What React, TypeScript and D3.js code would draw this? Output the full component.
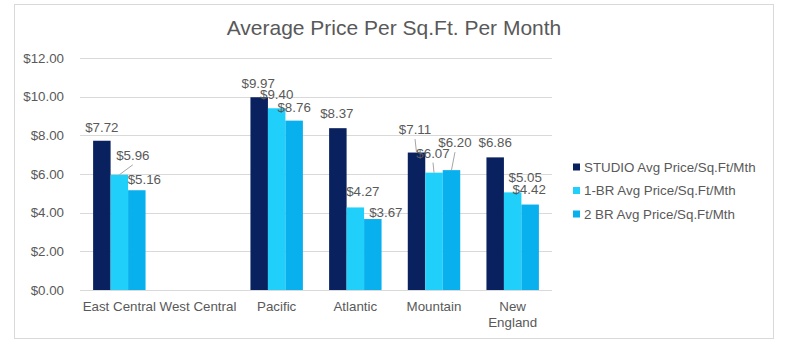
import React from "react";
import * as d3 from "d3";

const categories = ["East Central", "West Central", "Pacific", "Atlantic", "Mountain", "New England"];
const seriesNames = ["STUDIO Avg Price/Sq.Ft/Mth", "1-BR Avg Price/Sq.Ft/Mth", "2 BR Avg Price/Sq.Ft/Mth"];
const studioValues: (number | null)[] = [7.72, null, 9.97, 8.37, 7.11, 6.86];
const oneBrValues: (number | null)[] = [5.96, null, 9.4, 4.27, 6.07, 5.05];
const twoBrValues: (number | null)[] = [5.16, null, 8.76, 3.67, 6.2, 4.42];
const yTicks = [0, 2, 4, 6, 8, 10, 12];
const title = "Average Price Per Sq.Ft. Per Month";

// layout (label nudges, as moved in the original chart): [series][category] -> [dx, dy, leader]
const labelNudges: [number, number, boolean][][] = [
  [[0, 0, false], [0, 0, false], [-1, 0, false], [-1, -1, false], [-1.5, -9.5, true], [0, -1, false]],
  [[13.5, -6, true], [0, 0, false], [0, 0, false], [7.5, -2.5, false], [-1, -6, true], [12.5, -1, false]],
  [[7.5, 3, false], [0, 0, false], [0, 0, false], [13, 7, false], [3.5, -14, true], [-1, -1.5, false]],
];

const W = 800;
const H = 359;
const FONT = "'Liberation Sans', Arial, sans-serif";
const TEXT = "#595959";
const GRID = "#d9d9d9";
const colors = ["#0a2160", "#21d0fa", "#08b0ee"];

const plot = { left: 80, right: 552, top: 58, bottom: 290 };

function measure(text: string, size: number) {
  if (typeof document === "undefined") return text.length * size * 0.55;
  const c = document.createElement("canvas");
  const ctx = c.getContext("2d");
  if (!ctx) return text.length * size * 0.55;
  ctx.font = `${size}px 'Liberation Sans'`;
  return ctx.measureText(text).width;
}

export default function App() {
  const series = [studioValues, oneBrValues, twoBrValues];
  const x = d3.scaleBand<string>().domain(categories).range([plot.left, plot.right]).padding(0);
  const xs = d3
    .scaleBand<string>()
    .domain(seriesNames)
    .range([0, x.bandwidth()])
    .paddingInner(0)
    .paddingOuter(0.75);
  const y = d3.scaleLinear().domain([0, 12]).range([plot.bottom, plot.top]);
  const fmt = (v: number) => "$" + d3.format(".2f")(v);

  const wrap = (label: string) => {
    if (measure(label, 13.33) <= x.bandwidth()) return [label];
    return label.split(" ");
  };

  return (
    <div style={{ position: "fixed", left: 0, top: 0 }}>
      <svg width={W} height={H} style={{ display: "block", background: "#fff" }} fontFamily={FONT}>
        <rect x={0} y={0} width={W} height={H} fill="#fff" />
        <rect x={14.5} y={4.5} width={759} height={334} fill="#fff" stroke={GRID} strokeWidth={1} />
        <text x={394} y={35} textAnchor="middle" fontSize={21} fill={TEXT}>
          {title}
        </text>
        {yTicks.map((t) => (
          <g key={t}>
            <line x1={plot.left} x2={plot.right} y1={Math.round(y(t)) + 0.5} y2={Math.round(y(t)) + 0.5} stroke={GRID} strokeWidth={1} />
            <text x={64} y={y(t)} dy="0.35em" textAnchor="end" fontSize={13.33} fill={TEXT}>
              {fmt(t)}
            </text>
          </g>
        ))}
        {series.map((vals, si) =>
          vals.map((v, ci) => {
            if (v == null) return null;
            const bx = (x(categories[ci]) as number) + (xs(seriesNames[si]) as number);
            return (
              <rect key={`b${si}-${ci}`} x={bx} y={y(v)} width={xs.bandwidth()} height={y(0) - y(v)} fill={colors[si]} />
            );
          })
        )}
        {series.map((vals, si) =>
          vals.map((v, ci) => {
            if (v == null) return null;
            const cx = (x(categories[ci]) as number) + (xs(seriesNames[si]) as number) + xs.bandwidth() / 2;
            const [dx, dy, leader] = labelNudges[si][ci];
            const lx = cx + dx;
            const ly = y(v) - 9 + dy;
            return (
              <g key={`l${si}-${ci}`}>
                {leader && <line x1={cx} y1={y(v)} x2={lx} y2={ly + 5} stroke="#a6a6a6" strokeWidth={1} />}
                <text x={lx} y={ly} textAnchor="middle" fontSize={13.33} fill={TEXT}>
                  {fmt(v)}
                </text>
              </g>
            );
          })
        )}
        {categories.map((c) => {
          const lines = wrap(c);
          const cx = (x(c) as number) + x.bandwidth() / 2;
          return (
            <text key={c} x={cx} y={311} textAnchor="middle" fontSize={13.33} fill={TEXT}>
              {lines.map((ln, i) => (
                <tspan key={i} x={cx} dy={i === 0 ? 0 : 16}>
                  {ln}
                </tspan>
              ))}
            </text>
          );
        })}
        {seriesNames.map((s, i) => {
          const cy = 167 + i * 23.5;
          return (
            <g key={s}>
              <rect x={573} y={cy - 3.5} width={7} height={7} fill={colors[i]} />
              <text x={584} y={cy} dy="0.35em" fontSize={13.33} fill={TEXT}>
                {s}
              </text>
            </g>
          );
        })}
      </svg>
    </div>
  );
}
